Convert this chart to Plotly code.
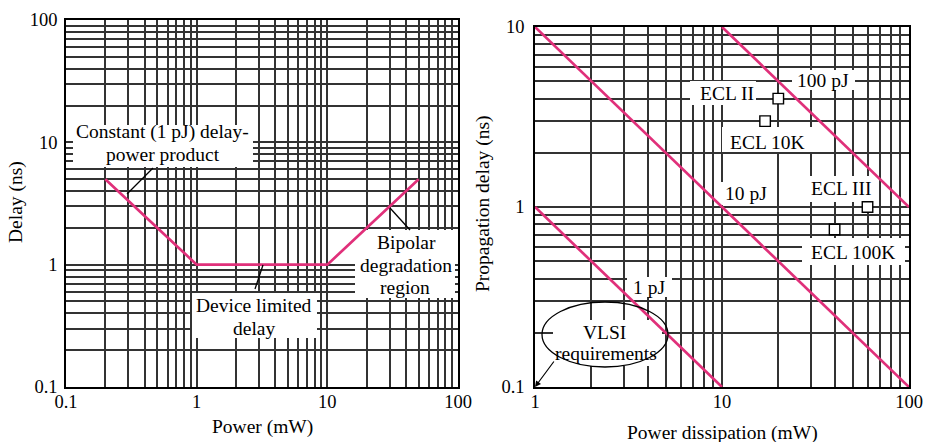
import math
import plotly.graph_objects as go

W, H = 927, 442
FONT = "Liberation Serif"
FS = 19.5        # label / title size
TFS = 18.5       # tick label size
PINK = "#e0307a"
GRID = "#333333"

# ---------------- data ----------------
# Left chart: delay vs power
left_power = [0.2, 1, 10, 50]
left_delay = [5, 1, 1, 5]

# Right chart: constant delay-power product lines (end points)
pj1_power = [1, 10]
pj1_delay = [1, 0.1]
pj10_power = [1, 100]
pj10_delay = [10, 0.1]
pj100_power = [10, 100]
pj100_delay = [10, 1]

# Right chart: ECL families
ecl_names = ["ECL II", "ECL 10K", "ECL III", "ECL 100K"]
ecl_power = [20, 17, 60, 40]
ecl_delay = [4, 3, 1, 0.75]

# tick labels (decades)
left_x_decades = [0.1, 1, 10, 100]
left_y_decades = [0.1, 1, 10, 100]
right_x_decades = [1, 10, 100]
right_y_decades = [0.1, 1, 10]
decade_labels = {0.1: "0.1", 1: "1", 10: "10", 100: "100"}

# ---------------- layout geometry (pixels) ----------------
LBOX = (66, 20, 458, 387)   # left, top, right, bottom
RBOX = (535, 27, 909, 387)
LRANGE = (left_x_decades, left_y_decades)
RRANGE = (right_x_decades, right_y_decades)


def domain(box):
    return ([box[0] / W, box[2] / W], [1 - box[3] / H, 1 - box[1] / H])


def to_dom(box, px, py):
    return ((px - box[0]) / (box[2] - box[0]), (box[3] - py) / (box[3] - box[1]))


def to_data(box, rng, px, py):
    fx, fy = to_dom(box, px, py)
    lx0, lx1 = math.log10(rng[0][0]), math.log10(rng[0][-1])
    ly0, ly1 = math.log10(rng[1][0]), math.log10(rng[1][-1])
    return 10 ** (lx0 + fx * (lx1 - lx0)), 10 ** (ly0 + fy * (ly1 - ly0))


def grid_vals(decades):
    vals = []
    for d in decades[:-1]:
        vals += [d * k for k in range(1, 10)]
    vals.append(decades[-1])
    return vals


def grid_text(decades):
    out = []
    for v in grid_vals(decades):
        hit = [d for d in decades if abs(v - d) < 1e-9 * max(1, d)]
        out.append(decade_labels[hit[0]] if hit else "")
    return out


fig = go.Figure()

L = ("x", "y")
R = ("x2", "y2")


# white label backgrounds (as filled traces so they sit above the grid)
def white_box(box, rng, refs, x0, y0, x1, y1):
    a = to_data(box, rng, x0, y1)
    b = to_data(box, rng, x1, y0)
    fig.add_trace(go.Scatter(x=[a[0], b[0], b[0], a[0], a[0]],
                             y=[a[1], a[1], b[1], b[1], a[1]],
                             mode="lines", fill="toself", fillcolor="white",
                             line=dict(width=0, color="white"), hoverinfo="skip",
                             xaxis=refs[0], yaxis=refs[1], showlegend=False))


white_box(LBOX, LRANGE, L, 73, 125, 253, 167)
white_box(LBOX, LRANGE, L, 192, 293, 317, 338)
white_box(LBOX, LRANGE, L, 355, 230, 455, 298)
white_box(RBOX, RRANGE, R, 792, 70, 855, 90)
white_box(RBOX, RRANGE, R, 690, 81, 756, 105)
white_box(RBOX, RRANGE, R, 722, 127, 812, 152)
white_box(RBOX, RRANGE, R, 720, 182, 773, 205)
white_box(RBOX, RRANGE, R, 805, 176, 876, 202)
white_box(RBOX, RRANGE, R, 802, 238, 905, 265)
white_box(RBOX, RRANGE, R, 627, 277, 672, 297)
white_box(RBOX, RRANGE, R, 553, 320, 662, 366)

line_style = dict(color=PINK, width=2.7)
fig.add_trace(go.Scatter(x=left_power, y=left_delay, mode="lines", line=line_style,
                         xaxis="x", yaxis="y", showlegend=False, cliponaxis=False))
for xs, ys in [(pj1_power, pj1_delay), (pj10_power, pj10_delay), (pj100_power, pj100_delay)]:
    fig.add_trace(go.Scatter(x=xs, y=ys, mode="lines", line=line_style,
                             xaxis="x2", yaxis="y2", showlegend=False, cliponaxis=False))
fig.add_trace(go.Scatter(x=ecl_power, y=ecl_delay, mode="markers", text=ecl_names,
                         marker=dict(symbol="square", size=10.5, color="white",
                                     line=dict(color="black", width=1.4)),
                         xaxis="x2", yaxis="y2", showlegend=False, cliponaxis=False))


def axis(decades, dom, anchor, standoff):
    return dict(
        type="log", domain=dom, anchor=anchor,
        range=[math.log10(decades[0]), math.log10(decades[-1])],
        tickmode="array", tickvals=grid_vals(decades), ticktext=grid_text(decades),
        ticks="", ticklabelstandoff=standoff,
        showgrid=True, gridcolor=GRID, gridwidth=1.6,
        showline=True, linecolor="black", linewidth=1.6, mirror=True,
        zeroline=False, automargin=False,
        tickfont=dict(family=FONT, size=TFS, color="black"),
        fixedrange=True,
    )


ldx, ldy = domain(LBOX)
rdx, rdy = domain(RBOX)
fig.update_layout(
    width=W, height=H, autosize=False,
    margin=dict(l=0, r=0, t=0, b=0, pad=0, autoexpand=False),
    paper_bgcolor="white", plot_bgcolor="white",
    font=dict(family=FONT, size=FS, color="black"),
    showlegend=False,
    xaxis=axis(left_x_decades, ldx, "y", -3),
    yaxis=axis(left_y_decades, ldy, "x", 3),
    xaxis2=axis(right_x_decades, rdx, "y2", -3),
    yaxis2=axis(right_y_decades, rdy, "x2", 5),
)

shapes = []
annotations = []


def label(box, refs, px, py, text):
    a, b = to_dom(box, px, py)
    annotations.append(dict(xref=refs[0] + " domain", yref=refs[1] + " domain",
                            x=a, y=b, text=text, showarrow=False,
                            xanchor="center", yanchor="middle",
                            font=dict(family=FONT, size=FS, color="black")))


def leader(box, refs, x0, y0, x1, y1):
    a0, b0 = to_dom(box, x0, y0)
    a1, b1 = to_dom(box, x1, y1)
    shapes.append(dict(type="line", xref=refs[0] + " domain", yref=refs[1] + " domain",
                       x0=a0, y0=b0, x1=a1, y1=b1, line=dict(color="black", width=1.3),
                       layer="above"))


# left chart labels
label(LBOX, L, 162.5, 132, "Constant (1 pJ) delay-")
label(LBOX, L, 163, 155, "power product")
leader(LBOX, L, 127, 194, 153, 168)

label(LBOX, L, 254, 305, "Device limited")
label(LBOX, L, 254, 328, "delay")
leader(LBOX, L, 263, 265, 255, 289)

label(LBOX, L, 406, 243, "Bipolar")
label(LBOX, L, 406, 265, "degradation")
label(LBOX, L, 405, 287, "region")
leader(LBOX, L, 390, 208, 410, 230)

# right chart labels
label(RBOX, R, 823, 80, "100 pJ")
label(RBOX, R, 727, 93, "ECL II")
label(RBOX, R, 767, 142, "ECL 10K")
label(RBOX, R, 746, 193, "10 pJ")
label(RBOX, R, 841, 188, "ECL III")
label(RBOX, R, 853, 252, "ECL 100K")
label(RBOX, R, 649, 287, "1 pJ")
label(RBOX, R, 604, 332, "VLSI")
label(RBOX, R, 606, 353, "requirements")

# VLSI ellipse
e0 = to_dom(RBOX, 542, 367)
e1 = to_dom(RBOX, 668, 302)
shapes.append(dict(type="circle", xref="x2 domain", yref="y2 domain",
                   x0=e0[0], y0=e0[1], x1=e1[0], y1=e1[1],
                   line=dict(color="black", width=1.3), layer="above"))
# arrow to (1 mW, 0.1 ns)
annotations.append(dict(xref="x2", yref="y2", x=math.log10(right_x_decades[0]),
                        y=math.log10(right_y_decades[0]), text="", showarrow=True,
                        ax=20, ay=-27, arrowhead=2, arrowsize=1, arrowwidth=1.2,
                        arrowcolor="black", standoff=0))


# axis titles
def title(px, py, text, angle=0):
    annotations.append(dict(xref="paper", yref="paper", x=px / W, y=1 - py / H,
                            text=text, showarrow=False, textangle=angle,
                            xanchor="center", yanchor="middle",
                            font=dict(family=FONT, size=FS, color="black")))


title(16, 202, "Delay (ns)", -90)
title(262, 427, "Power (mW)")
title(483, 204, "Propagation delay (ns)", -90)
title(722, 433, "Power dissipation (mW)")

fig.update_layout(shapes=shapes, annotations=annotations)
fig.write_html("out.html", config={"displayModeBar": False, "responsive": False},
               post_script="document.body.style.margin='0px';document.body.style.overflow='hidden';")
